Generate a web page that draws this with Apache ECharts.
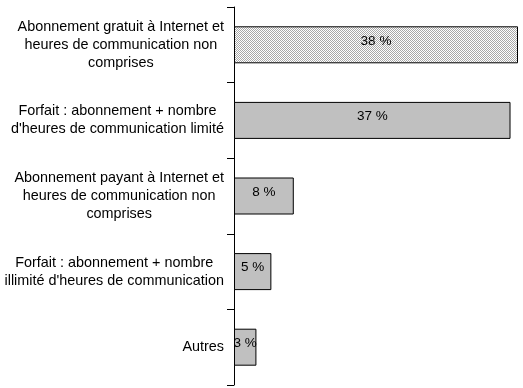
<!DOCTYPE html>
<html>
<head>
<meta charset="utf-8">
<script src="https://cdn.jsdelivr.net/npm/echarts@6/dist/echarts.min.js"></script>
<style>
  html, body { margin: 0; padding: 0; background: #ffffff; }
  #chart { width: 523px; height: 388px; }
</style>
</head>
<body>
<div id="chart"></div>
<script>
// Types d'accès à Internet (part des abonnés)
const categories = [
  "Abonnement gratuit à Internet et\nheures de communication non\ncomprises",
  "Forfait : abonnement + nombre\nd'heures de communication limité",
  "Abonnement payant à Internet et\nheures de communication non\ncomprises",
  "Forfait : abonnement + nombre\nillimité d'heures de communication",
  "Autres"
];
const values = [38, 37, 8, 5, 3];

// Checkerboard fill for the first bar
function checker(dark, light) {
  const c = document.createElement('canvas');
  c.width = 2; c.height = 2;
  const g = c.getContext('2d');
  g.fillStyle = light; g.fillRect(0, 0, 2, 2);
  g.fillStyle = dark;
  g.fillRect(0, 0, 1, 1);
  g.fillRect(1, 1, 1, 1);
  return { image: c, repeat: 'repeat' };
}
const firstFill = checker('#a8a8a8', '#ffffff');
const otherFill = '#c0c0c0';
const font = 'Liberation Sans, Arial, sans-serif';

const chart = echarts.init(document.getElementById('chart'), null, { renderer: 'canvas' });
chart.setOption({
  animation: false,
  grid: { left: 234, right: 5, top: 7, bottom: 3, containLabel: false, outerBoundsMode: 'none' },
  xAxis: {
    type: 'value', min: 0, max: 38,
    show: false
  },
  yAxis: {
    type: 'category',
    data: categories,
    inverse: true,
    axisLine: { show: true, lineStyle: { color: '#000', width: 1 } },
    axisTick: { show: true, length: 7, lineStyle: { color: '#000', width: 1 } },
    axisLabel: {
      margin: 10,
      color: '#000',
      fontFamily: font,
      fontSize: 14.4,
      lineHeight: 18,
      formatter: function (v) {
        return v.split('\n').map(function (l) { return '{c|' + l + '}'; }).join('\n');
      },
      rich: { c: { align: 'center', fontSize: 14.4, lineHeight: 18, color: '#000', fontFamily: font } }
    },
    splitLine: { show: false }
  },
  series: [{
    type: 'bar',
    barWidth: 37,
    data: values.map(function (v, i) {
      return { value: v, itemStyle: { color: i === 0 ? firstFill : otherFill } };
    }),
    itemStyle: { borderColor: '#000', borderWidth: 1 },
    label: {
      show: true,
      position: 'inside',
      offset: [0, -4],
      color: '#000',
      fontFamily: font,
      fontSize: 13.5,
      formatter: function (p) { return p.value + ' %'; }
    }
  }]
});
</script>
</body>
</html>
